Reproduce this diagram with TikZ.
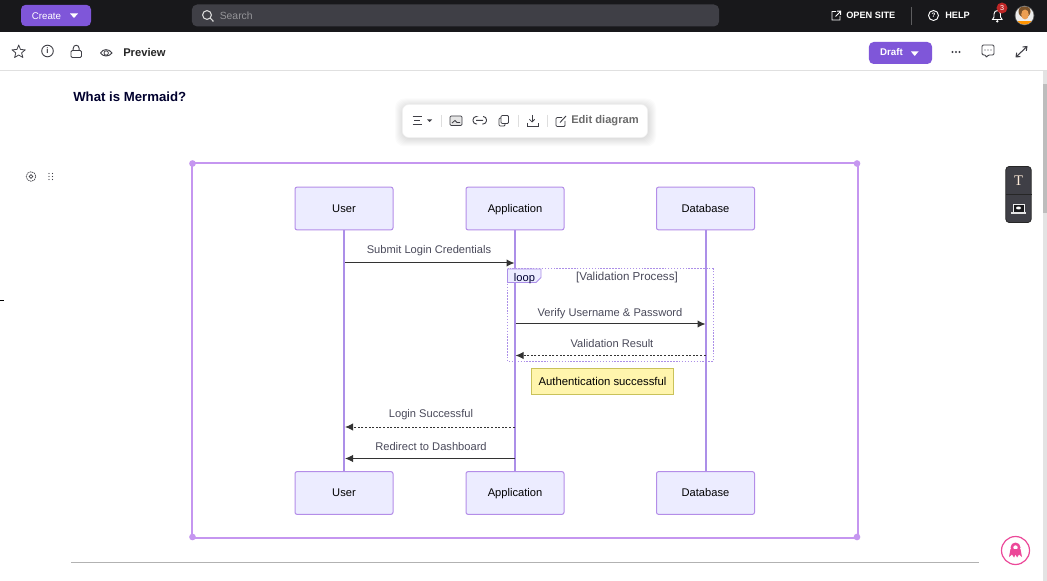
\documentclass[tikz,border=0pt]{standalone}
\usepackage{fontspec}
\setmainfont{Liberation Sans}
\newfontfamily\serifT{Liberation Serif}
\usetikzlibrary{arrows.meta,calc}
\definecolor{barbg}{HTML}{18181B}
\definecolor{violetbtn}{HTML}{7F56D9}
\definecolor{searchbg}{HTML}{3F3F46}
\definecolor{frameviolet}{HTML}{C596F0}
\definecolor{actorfill}{HTML}{ECECFF}
\definecolor{actorline}{HTML}{B48DE8}
\definecolor{lifeviolet}{HTML}{AC8FE8}
\definecolor{msgtext}{HTML}{4A4A5A}
\definecolor{msgline}{HTML}{333333}
\definecolor{notefill}{HTML}{FFF5AD}
\definecolor{noteline}{HTML}{C9C25A}
\definecolor{icongrey}{HTML}{3F3F46}
\definecolor{pinkbot}{HTML}{EC4899}
\tikzset{
 x=0.75pt,y=-0.75pt,
 actor/.style={draw=actorline,fill=actorfill,line width=0.75pt,rounded corners=1.5pt,minimum width=73.5pt,minimum height=32pt,inner sep=0pt,text height=6.5pt,text depth=0.7pt,font=\fontsize{8.35}{10}\selectfont,text=black},
 life/.style={draw=lifeviolet,line width=1.5pt},
 msg/.style={draw=msgline,line width=0.75pt,-{Latex[length=6pt,width=5.5pt]}},
 msgd/.style={msg,dash pattern=on 1.5pt off 1.2pt},
 lbl/.style={font=\fontsize{8.35}{10}\selectfont,text=msgtext,inner sep=0pt,text height=6.5pt,text depth=0.7pt},
 ui/.style={inner sep=0pt,font=\fontsize{7.3}{9}\bfseries\selectfont},
 ico/.style={draw=icongrey,line width=0.6pt},
 icow/.style={draw=white,line width=0.7pt},
 handle/.style={circle,fill=frameviolet,minimum size=5pt,inner sep=0pt},
 sepl/.style={draw=black!13,line width=0.5pt},
 toolshade/.style={fill=black,opacity=0.016,rounded corners=7pt},
}
\begin{document}
\begin{tikzpicture}
\useasboundingbox (0,0) rectangle (1047,581);
\fill[white] (0,0) rectangle (1047,581);
% top bar
\fill[barbg] (0,0) rectangle (1047,32);
\node[fill=violetbtn,rounded corners=3.5pt,minimum width=52.5pt,minimum height=16pt,inner sep=0pt] (create) at (56,15.5) {};
\node[ui,text=white,font=\fontsize{7.3}{9}\selectfont] (createt) at (46.5,16) {Create};
\fill[white] (70,13.5) -- (78,13.5) -- (74,18) -- cycle;
\node[fill=searchbg,rounded corners=4pt,minimum width=395.5pt,minimum height=16.5pt,inner sep=0pt] (search) at (455.5,15.5) {};
\draw[white!85!black,line width=0.8pt] (207,15) circle (4.4) (210.5,18.5) -- (213.5,21.5);
\node[anchor=west,inner sep=0pt,text=white!45!searchbg,font=\fontsize{7.8}{9}\selectfont] (searcht) at (219.5,15.5) {Search};
% right top
\draw[icow] (836,11.5) -- (832,11.5) -- (832,20) -- (840,20) -- (840,16) (835.5,16.5) -- (840.5,11.5) (837,11.2) -- (840.7,11.2) -- (840.7,14.8);
\node[ui,text=white,anchor=west,font=\fontsize{6.9}{9}\bfseries\selectfont] (open) at (846,15.5) {OPEN SITE};
\draw[white!30!barbg,line width=0.4pt] (911.5,7) -- (911.5,25);
\draw[icow] (933.5,15.5) circle (5);
\node[inner sep=0pt,text=white,font=\fontsize{4.8}{5}\bfseries\selectfont] (qm) at (933.5,15.5) {?};
\node[ui,text=white,anchor=west,font=\fontsize{6.9}{9}\bfseries\selectfont] (help) at (945,15.5) {HELP};
\draw[icow] (992.5,19.5) -- (994,17) -- (994,14) .. controls (994,9.5) and (1000.5,9.5) .. (1000.5,14) -- (1000.5,17) -- (1002,19.5) -- cycle;
\fill[white] (997.3,21.3) circle (1.3);
\node[circle,fill=red!70!black!85!white,minimum size=8.2pt,inner sep=0pt,text=white,font=\fontsize{5.4}{6}\selectfont] (badge) at (1002,8) {3};
\fill[black!60!white] (1024.5,15.5) circle (9.8);
\begin{scope}
\clip (1024.5,15.5) circle (9);
\fill[white!85!gray] (1015,6) rectangle (1034,26);
\fill[orange!85!yellow] (1017,26) rectangle (1032,21);
\fill[brown!65!black] (1024.5,11.5) ellipse (6 and 6);
\fill[brown!40!orange!75!white] (1025,14.5) ellipse (3.8 and 5);
\end{scope}
% second row
\draw[black!12,line width=0.8pt] (0,70.5) -- (1047,70.5);
\draw[ico,line join=round] (18.7,45) -- (20.5,49.5) -- (25.3,49.8) -- (21.6,52.9) -- (22.9,57.5) -- (18.7,55) -- (14.6,57.5) -- (15.8,52.9) -- (12,49.8) -- (16.9,49.5) -- cycle;
\draw[ico,line width=0.7pt] (47.5,51) circle (5.8);
\node[inner sep=0pt,text=icongrey,font=\fontsize{6}{6}\bfseries\selectfont] (info) at (47.5,51) {i};
\draw[ico,line width=0.7pt,rounded corners=1pt] (71,50.5) rectangle (81.5,57.5);
\draw[ico,line width=0.7pt] (73.2,50.5) -- (73.2,48.5) .. controls (73.2,44.2) and (79.2,44.2) .. (79.2,48.5) -- (79.2,50.5);
\draw[ico,line width=0.7pt] (100.5,53) .. controls (103,48.5) and (109,48.5) .. (112,53) .. controls (109,57) and (103,57) .. (100.5,53);
\draw[ico] (106.2,53) circle (2.2);
\node[ui,anchor=west,text=black!85,font=\fontsize{8.4}{9}\bfseries\selectfont] (preview) at (123,52) {Preview};
\node[fill=violetbtn,rounded corners=3.5pt,minimum width=47.3pt,minimum height=16.5pt,inner sep=0pt] (draft) at (900.5,53) {};
\node[inner sep=0pt,text=white,font=\fontsize{7.3}{9}\bfseries\selectfont] (draftt) at (891.5,52.5) {Draft};
\fill[white] (911,51.5) -- (918.5,51.5) -- (914.7,56) -- cycle;
\foreach \dx in {952.5,956,959.5} \fill[icongrey] (\dx,52) circle (1.1);
\draw[ico,rounded corners=1pt,line width=0.7pt] (982,45) -- (994,45) -- (994,55) -- (988,55) -- (986,58) -- (986,55) -- (982,55) -- cycle;
\foreach \dx in {985,988,991} \fill[icongrey] (\dx,50) circle (0.7);
\draw[ico,line width=0.8pt,{Straight Barb[length=2.5pt,width=4pt]}-{Straight Barb[length=2.5pt,width=4pt]}] (1015.5,57.5) -- (1027.5,46);
% scrollbar
\fill[black!11] (1043,71) rectangle (1047,581);
\fill[black!26] (1043,84) rectangle (1047,213);
% left tick
\draw[black,line width=0.6pt] (0,300) -- (4,300);
% heading
\node[anchor=west,inner sep=0pt,text=black!80!blue!90!black,font=\fontsize{9.9}{11}\bfseries\selectfont] (title) at (73,96.5) {What is Mermaid?};
% side icons
\draw[ico,line width=0.5pt,dash pattern=on 1.2pt off 0.5pt] (31,176.5) circle (4.8);
\draw[ico,line width=0.5pt] (31,176.5) circle (1.8);
\foreach \yy in {173.5,176.5,179.5} {\fill[icongrey] (49,\yy) circle (0.7); \fill[icongrey] (52.5,\yy) circle (0.7);}
% toolbar
\foreach \g in {1,2,...,8}
  \fill[toolshade] (403-\g,105-\g+1.5) rectangle (648+\g,137+\g+1.5);
\node[fill=white,draw=black!6,line width=0.4pt,rounded corners=5pt,minimum width=184pt,minimum height=24.8pt,inner sep=0pt] (toolbar) at (525,121) {};
\draw[ico,line width=0.6pt] (412.5,116.5) -- (421.5,116.5) (414,120.5) -- (420,120.5) (412.5,124.5) -- (421.5,124.5);
\fill[icongrey] (427,119.5) -- (432,119.5) -- (429.5,122) -- cycle;
\foreach \sx in {441.5,518.5,547.5} \draw[sepl] (\sx,115) -- (\sx,127);
\draw[ico,fill=black!10,line width=0.5pt,rounded corners=0.8pt] (450,116) rectangle (462,125.5);
\draw[ico,line width=0.6pt] (452,123) -- (455,120.5) -- (457,122.5) -- (460,122.5);
\draw[ico,line width=0.7pt,rounded corners=2.5pt] (476,116.5) -- (473,116.5) -- (473,124) -- (477,124) (483,116.5) -- (486.5,116.5) -- (486.5,124) -- (482,124) (476,120.3) -- (483,120.3);
\draw[ico,line width=0.6pt,rounded corners=0.8pt] (501,115.5) rectangle (508.5,123.5) (501,118) -- (499,118) -- (499,126) -- (505,126) -- (505,123.5);
\draw[ico,line width=0.6pt,-{Straight Barb[length=2pt,width=4pt]}] (532,115) -- (532,122.5);
\draw[ico,line width=0.6pt] (527,123) -- (527,126) -- (538,126) -- (538,123);
\draw[ico,line width=0.6pt,rounded corners=0.8pt] (562,117.5) -- (556,117.5) -- (556,126.5) -- (565,126.5) -- (565,121);
\draw[ico,line width=0.7pt] (560,122.5) -- (566,116);
\node[anchor=west,inner sep=0pt,text=black!58,font=\fontsize{8.35}{10}\bfseries\selectfont] (edit) at (571,121) {Edit diagram};
% floating panel
\node[fill=searchbg,draw=black!85,rounded corners=2.5pt,line width=0.6pt,minimum width=19pt,minimum height=42pt,inner sep=0pt] (panel) at (1018.5,194.5) {};
\draw[black!85,line width=0.5pt] (1006,194.5) -- (1031.5,194.5);
\node[inner sep=0pt,text=white!85!orange,font=\serifT\fontsize{11}{12}\selectfont] (tt) at (1018.5,181) {T};
\draw[white!85!gray,line width=0.5pt,fill=barbg] (1013,204) rectangle (1024,212);
\fill[white!80!gray] (1011,212) rectangle (1026,214.5);
\fill[white] (1018.5,208) ellipse (2.5 and 1.5);
% frame
\draw[frameviolet,line width=1.5pt] (192,163.5) rectangle (857.5,537.5);
\node[handle] (h1) at (192.5,163.5) {};
\node[handle] (h2) at (857,163.5) {};
\node[handle] (h3) at (192.5,537) {};
\node[handle] (h4) at (857,537) {};
% lifelines
\draw[life] (344,230) -- (344,472);
\draw[life] (515,230) -- (515,472);
\draw[life] (706,230) -- (706,472);
% loop box
\draw[lifeviolet,line width=0.75pt,dash pattern=on 1.1pt off 1.1pt] (507.5,269) rectangle (713,361.5);
\fill[actorfill] (507.5,269) -- (541,269) -- (541,277.5) -- (536,282.5) -- (507.5,282.5) -- cycle;
\draw[lifeviolet,line width=0.6pt] (507.5,269) -- (541,269) -- (541,277.5) -- (536,282.5) -- (507.5,282.5) -- cycle;
\node[lbl,text=black!80!blue] (loop) at (524.5,277.5) {loop};
\node[lbl,font=\fontsize{8.7}{10}\selectfont] (vp) at (627,277) {[Validation Process]};
% actors
\node[actor] (user1) at (344,208.5) {User};
\node[actor] (app1) at (515,208.5) {Application};
\node[actor] (db1) at (705.5,208.5) {Database};
\node[actor] (user2) at (344,493) {User};
\node[actor] (app2) at (515,493) {Application};
\node[actor] (db2) at (705.5,493) {Database};
% message anchors
\coordinate (u263) at (345,263);
\coordinate (a263) at (514.5,263);
\coordinate (a324) at (515.5,324);
\coordinate (d324) at (705.5,324);
\coordinate (d355) at (705.5,355.5);
\coordinate (a355) at (515.5,355.5);
\coordinate (a427) at (514.5,427);
\coordinate (u427) at (345,427);
\coordinate (a458) at (514.5,458.5);
\coordinate (u458) at (345,458.5);
\draw[msg] (u263) -- (a263);
\draw[msg] (a324) -- (d324);
\draw[msgd] (d355) -- (a355);
\draw[msgd] (a427) -- (u427);
\draw[msg] (a458) -- (u458);
\node[lbl] (m1) at (429,249.5) {Submit Login Credentials};
\node[lbl] (m2) at (610,312.5) {Verify Username \& Password};
\node[lbl] (m3) at (612,343.5) {Validation Result};
\node[lbl] (m4) at (431,413.5) {Login Successful};
\node[lbl] (m5) at (431,446.5) {Redirect to Dashboard};
\node[draw=noteline,fill=notefill,line width=0.6pt,minimum width=107pt,minimum height=19.5pt,inner sep=0pt,text height=6.5pt,text depth=0.7pt,font=\fontsize{8.5}{10}\selectfont,text=black] (note) at (602.5,381.5) {Authentication successful};
% bottom rule
\draw[black!30,line width=0.6pt] (71,562.5) -- (979,562.5);
% bot button
\node[circle,draw=pinkbot,line width=0.9pt,fill=white,minimum size=21pt,inner sep=0pt] (bot) at (1015.5,550.5) {};
\fill[pinkbot] (1015.5,547.5) circle (5);
\fill[white] (1015.5,547.5) circle (2.2);
\fill[pinkbot] (1010.5,549) -- (1020.5,549) -- (1022,557) -- (1019,554.5) -- (1017,557.5) -- (1015.5,554.5) -- (1014,557.5) -- (1012,554.5) -- (1009,557) -- cycle;
\end{tikzpicture}
\end{document}
